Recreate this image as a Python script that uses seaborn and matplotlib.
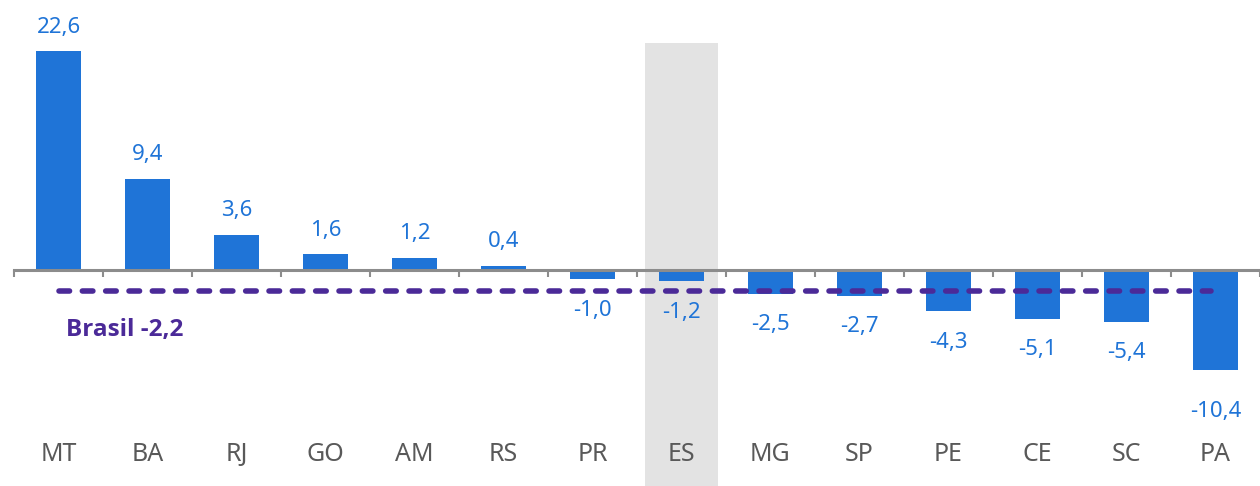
import numpy as np
import matplotlib
matplotlib.use("Agg")
import matplotlib.pyplot as plt
import seaborn as sns

states = ["MT", "BA", "RJ", "GO", "AM", "RS", "PR", "ES", "MG", "SP", "PE", "CE", "SC", "PA"]
values = [22.6, 9.4, 3.6, 1.6, 1.2, 0.4, -1.0, -1.2, -2.5, -2.7, -4.3, -5.1, -5.4, -10.4]
brasil_value = -2.2
brasil_label = "Brasil -2,2"
highlight = "ES"

sns.set_theme(style="white")
plt.rcParams["font.family"] = ["Noto Sans", "DejaVu Sans"]

BLUE = "#1F74D7"
GRAY_AX = "#8C8C8C"
PURPLE = "#4B2A98"
HL = "#E3E3E3"
TXT = "#595959"

fig = plt.figure(figsize=(12.6, 4.86), dpi=100)
ax = fig.add_axes([14 / 1260, 0, 1246 / 1260, 1])

hi = states.index(highlight)
ax.fill_between([hi - 0.41, hi + 0.41], -30, 23.5, color=HL, zorder=0, linewidth=0)

sns.barplot(x=states, y=values, color=BLUE, width=0.5, saturation=1, ax=ax,
            zorder=1, linewidth=0)

ax.set_xlim(-0.5, -0.5 + 1246 / 89.45)
ax.set_ylim(-22.41, 27.9)

for s in ["top", "right", "left"]:
    ax.spines[s].set_visible(False)
ax.spines["bottom"].set_position(("data", 0))
ax.spines["bottom"].set_color(GRAY_AX)
ax.spines["bottom"].set_linewidth(2.2)
ax.spines["bottom"].set_zorder(2.5)

ax.set_xticks(range(len(states)))
ax.set_xticklabels([])
ax.tick_params(axis="x", which="major", length=0)
ax.set_xticks(np.arange(-0.5, len(states), 1.0), minor=True)
ax.tick_params(axis="x", which="minor", direction="out", length=5.0, width=1.5,
               color=GRAY_AX, bottom=True)
ax.set_yticks([])
ax.set_xlabel("")
ax.set_ylabel("")

for i, s in enumerate(states):
    ax.text(i, 1 - 454 / 486, s, transform=ax.get_xaxis_transform(), ha="center",
            va="center", fontsize=18, color=TXT)

for i, v in enumerate(values):
    lab = f"{v:.1f}".replace(".", ",")
    if v >= 0:
        off = 24
    else:
        off = -42 if i == len(values) - 1 else -31
    ax.annotate(lab, (i, v), xytext=(0, off), textcoords="offset pixels",
                ha="center", va="center", fontsize=16, color=BLUE)

ax.plot([0, 12.95], [brasil_value, brasil_value], color=PURPLE, linewidth=4.0,
        dashes=(1.9, 2.3), dash_capstyle="round", zorder=3)
ax.annotate(brasil_label, (0, brasil_value), xytext=(7, -45), textcoords="offset pixels",
            ha="left", va="baseline", fontsize=17.5, fontweight="bold", color=PURPLE,
            family=["Open Sans", "DejaVu Sans"])

fig.savefig("out.png", dpi=100)
